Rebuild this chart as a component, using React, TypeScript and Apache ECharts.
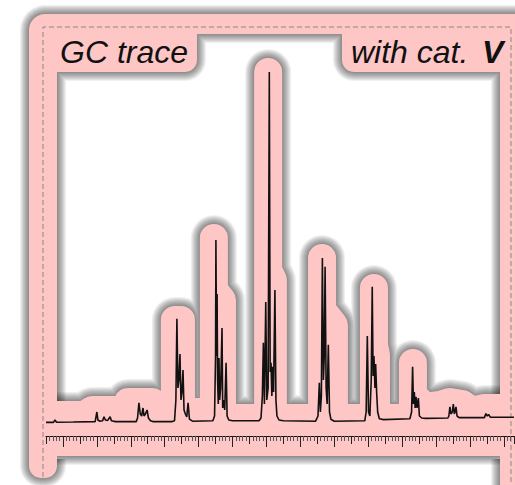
import React, { useEffect, useRef } from "react";
import * as echarts from "echarts";

// GC trace: [retention position, signal]
const gcTrace: [number, number][] = [
  [0, 3.4], [2.2, 3.4], [2.65, 4.0], [3.1, 3.45], [8, 3.5], [14.5, 3.6],
  [15.0, 6.0], [15.3, 4.0], [15.8, 3.7], [16.7, 3.8], [17.1, 4.8], [17.5, 4.0], [18.2, 3.9], [18.9, 4.8], [19.3, 3.8], [20.5, 3.6],
  [26.6, 3.6], [27.0, 4.5], [27.4, 8.3], [27.8, 5.5], [28.2, 5.0], [28.6, 7.0], [28.9, 5.0], [29.3, 5.5], [29.8, 6.5], [30.2, 4.5], [30.8, 3.8], [31.5, 3.6],
  [37.2, 3.6], [37.9, 3.8], [38.3, 9], [38.6, 29.3], [38.9, 12], [39.2, 14], [39.5, 20.5], [39.8, 9], [40.1, 11], [40.4, 16.5], [40.7, 6.5], [41.1, 5.5], [41.5, 4.8], [41.9, 8.3], [42.3, 4.2], [43.2, 3.7],
  [49.2, 3.8], [49.7, 5], [50.0, 20], [50.1, 49], [50.3, 20], [50.45, 35.5], [50.6, 14], [50.8, 8], [51.0, 19.5], [51.2, 9], [51.5, 12], [51.9, 27], [52.1, 7], [52.4, 9], [52.7, 6.5], [53.1, 18.3], [53.4, 5], [53.9, 4.0], [55, 3.8],
  [62.8, 3.8], [63.4, 4.5], [63.8, 10], [64.1, 23.3], [64.4, 8], [64.8, 33.5], [65.1, 9], [65.5, 12], [65.85, 91], [66.1, 16], [66.35, 18.3], [66.6, 10], [66.85, 17.3], [67.1, 11], [67.5, 36.5], [67.8, 9], [68.1, 5], [68.7, 4.0], [70, 3.8],
  [79.5, 3.7], [80.2, 5], [80.6, 13.3], [80.9, 6], [81.2, 10], [81.5, 44.5], [81.8, 14], [82.05, 20], [82.3, 42.3], [82.6, 12], [82.9, 8], [83.25, 22.8], [83.6, 6], [84.0, 4.2], [85, 3.7],
  [94.0, 3.8], [94.4, 6], [94.75, 25], [95.1, 6], [95.5, 5], [95.9, 14], [96.2, 37.3], [96.45, 15], [96.7, 20], [97.0, 12], [97.2, 18], [97.5, 10.8], [97.8, 6], [98.3, 4.3], [99.5, 4.1],
  [107.3, 4.3], [107.8, 6], [108.1, 17.3], [108.35, 8], [108.6, 11], [108.85, 7], [109.1, 9.8], [109.4, 7], [109.8, 9.5], [110.1, 5], [110.8, 4.5], [112, 4.4],
  [118.5, 4.5], [118.8, 5], [119.1, 7.3], [119.4, 5.5], [119.8, 6], [120.1, 8], [120.4, 5.5], [120.6, 6], [120.9, 7.3], [121.2, 5], [121.8, 4.6],
  [129.3, 4.6], [129.7, 5.6], [130.1, 5.0], [130.5, 5.4], [131.0, 4.7], [138, 4.7],
];

// centre line of the pink highlight band that follows the trace
const highlightEnvelope: [number, number][] = [
  [3.24, 5.25], [11.5, 5.25], [13.6, 6.5], [20.35, 6.5], [22.4, 5.25], [24.2, 8.5], [31.3, 8.5], [33.0, 5.75],
  [38.0, 5.75], [38.0, 29], [39.8, 29], [39.8, 6],
  [49.5, 6], [49.5, 49.5], [49.5, 36.5], [51.9, 34], [51.9, 4.5],
  [65.5, 4.5], [65.5, 91], [65.5, 41.5], [66.9, 39], [66.9, 4.5],
  [81.4, 4.5], [81.4, 44.5], [81.4, 31.5], [84.9, 27.75], [84.9, 4.5],
  [96.7, 4.5], [96.7, 37], [96.7, 22.75], [97.3, 20.25], [97.3, 4.5],
  [108.2, 4.5], [108.2, 18.25], [108.2, 10.25], [111.8, 7.25], [116.2, 7.75], [119.1, 8.5], [122.7, 8], [125.6, 6.25], [129.4, 7], [133.9, 7],
];

const longTicks: number[] = [5, 15, 25, 35, 45, 55, 65, 75, 85, 95, 105, 115, 125, 135];

const titleLeft = "GC trace";
const titleRight = "with cat.";
const titleRightBold = "V";

function arc(cx: number, cy: number, r: number, a0: number, a1: number): number[][] {
  const pts: number[][] = [];
  const n = 6;
  for (let i = 0; i <= n; i++) {
    const a = ((a0 + ((a1 - a0) * i) / n) * Math.PI) / 180;
    pts.push([cx + r * Math.cos(a), cy + r * Math.sin(a)]);
  }
  return pts;
}

export default function App() {
  const ref = useRef<HTMLDivElement>(null);
  useEffect(() => {
    const chart = echarts.init(ref.current!, null, { renderer: "svg" });
    const PINK = "#ffc6c6";
    const HALO = "rgba(0,0,0,0.058)";
    const HALO_STEPS = [1, 2, 3, 4, 5, 6, 7, 8, 9];

    const framePoints: number[][] = [
      ...arc(45, 30, 16, 180, 270),
      [530, 14], [530, 494], [500, 494], [500, 72],
      ...arc(354, 60, 12, 90, 180),
      [342, 34], [197, 34],
      ...arc(185, 60, 12, 0, 90),
      [57, 72],
      ...arc(45, 466, 12, 0, 90),
      ...arc(41, 466, 12, 90, 180),
    ];
    const outerEdge: number[][] = [
      [57, 459],
      ...arc(45, 466, 12, 0, 90),
      ...arc(41, 466, 12, 90, 180),
      ...arc(45, 30, 16, 180, 270),
      [530, 14], [530, 494], [500, 494], [500, 459],
    ];
    const innerEdge: number[][] = [
      [57, 401], [57, 72],
      ...arc(185, 60, 12, 90, 0),
      [197, 34], [342, 34],
      ...arc(354, 60, 12, 180, 90),
      [500, 72], [500, 394],
    ];

    const graphics: any[] = [];
    HALO_STEPS.forEach((k) => {
      [outerEdge, innerEdge].forEach((pts) =>
        graphics.push({
          type: "polyline", z: 1, silent: true,
          shape: { points: pts },
          style: { fill: null, stroke: HALO, lineWidth: 2 * k, lineJoin: "round", lineCap: "butt" },
        })
      );
      graphics.push({
        type: "rect", z: 1, silent: true,
        shape: { x: 57, y: 456, width: 443, height: k },
        style: { fill: HALO },
      });
    });
    graphics.push({
      type: "polygon", z: 2, silent: true,
      shape: { points: framePoints },
      style: { fill: PINK, stroke: null },
    });

    const font = '"Liberation Sans", Arial, sans-serif';
    const axisCommon = {
      type: "value",
      min: 0,
      max: 138,
      position: "bottom",
      axisLabel: { show: false },
      splitLine: { show: false },
      minorSplitLine: { show: false },
      z: 5,
    };

    const haloSeries = HALO_STEPS.map((k) => ({
      type: "line",
      data: highlightEnvelope,
      z: 1,
      silent: true,
      symbol: "none",
      clip: false,
      lineStyle: { color: HALO, width: 28 + 2 * k, cap: "butt", join: "round" },
    }));

    chart.setOption({
      animation: false,
      backgroundColor: "#ffffff",
      grid: { left: 46, right: 1, top: 36, bottom: 29, containLabel: false },
      xAxis: [
        {
          ...axisCommon,
          interval: 10,
          axisLine: { show: true, onZero: true, lineStyle: { color: "#111", width: 1.2 } },
          axisTick: { show: true, length: 8, lineStyle: { color: "#222", width: 1 } },
          minorTick: { show: true, splitNumber: 10, length: 5, lineStyle: { color: "#555", width: 1 } },
        },
        {
          ...axisCommon,
          offset: -20,
          axisLine: { show: false, onZero: false },
          axisTick: { show: true, length: 11, customValues: longTicks, lineStyle: { color: "#222", width: 1 } },
        },
      ],
      yAxis: { type: "value", min: -5, max: 100, show: false },
      graphic: [
        ...graphics,
        {
          type: "polyline",
          z: 3,
          silent: true,
          shape: { points: [[43, 477], [43, 27], [511, 27], [511, 490]] },
          style: { stroke: "#888", lineWidth: 1, lineDash: [5, 3], fill: null },
        },
        {
          type: "text", z: 6, x: 60, y: 52,
          style: { text: titleLeft, font: `italic 32px ${font}`, fill: "#111", align: "left", verticalAlign: "middle" },
        },
        {
          type: "text", z: 6, x: 351, y: 52,
          style: { text: titleRight, font: `italic 32px ${font}`, fill: "#111", align: "left", verticalAlign: "middle" },
        },
        {
          type: "text", z: 6, x: 482, y: 52,
          style: { text: titleRightBold, font: `italic bold 32px ${font}`, fill: "#111", align: "left", verticalAlign: "middle" },
        },
      ],
      series: [
        ...haloSeries,
        {
          type: "line",
          data: highlightEnvelope,
          z: 2,
          silent: true,
          symbol: "none",
          clip: false,
          lineStyle: { color: PINK, width: 28, cap: "butt", join: "round" },
          areaStyle: { color: PINK, opacity: 1, origin: "start" },
        },
        {
          type: "line",
          data: gcTrace,
          z: 4,
          silent: true,
          symbol: "none",
          lineStyle: { color: "#111", width: 1.6 },
        },
      ],
    });
    return () => chart.dispose();
  }, []);
  return <div ref={ref} style={{ position: "fixed", left: 0, top: 0, width: 515, height: 485 }} />;
}
